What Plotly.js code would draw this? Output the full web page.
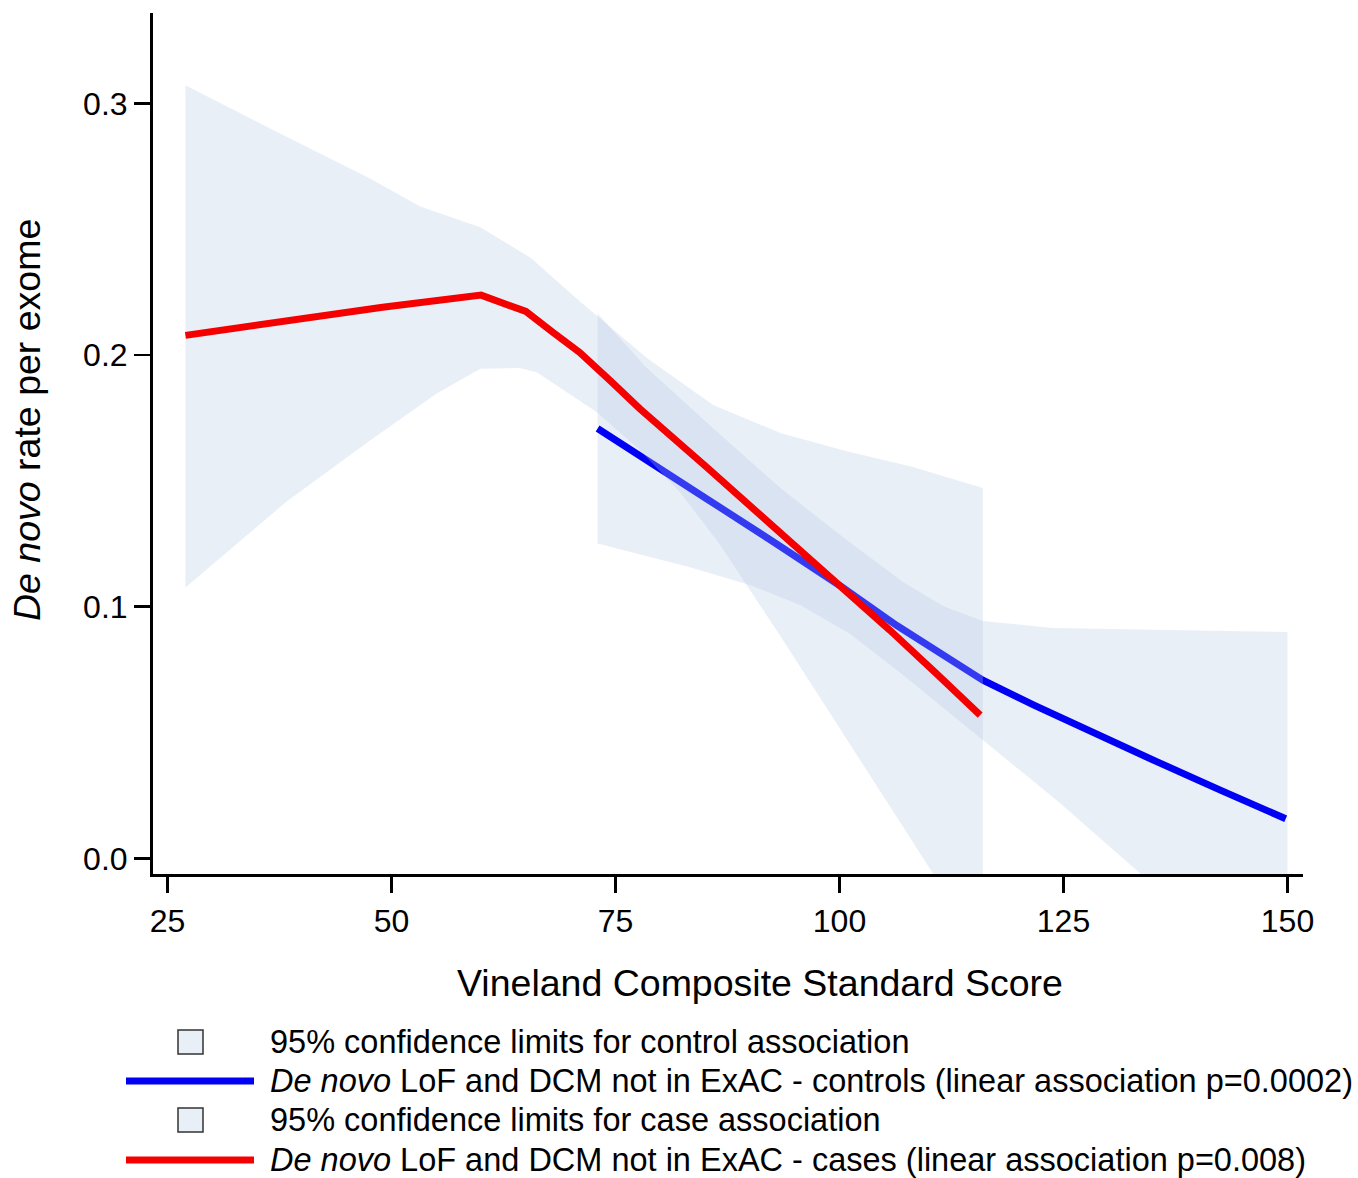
<!DOCTYPE html>
<html>
<head>
<meta charset="utf-8">
<script src="https://cdn.plot.ly/plotly-3.0.1.min.js"></script>
<style>
  html, body { margin: 0; padding: 0; background: #ffffff; }
  #chart { width: 1358px; height: 1178px; }
</style>
</head>
<body>
<div id="chart"></div>
<script>
// ---------- Data ----------
// Cases: fitted rate (red line)
const caseX = [27, 49, 60, 65, 68, 71, 74.5, 77.7, 85.2, 92.6, 100.1, 105.6, 110.7, 115.7];
const caseY = [0.2078, 0.2190, 0.2238, 0.2173, 0.2090, 0.2010, 0.1895, 0.1787, 0.1553, 0.1320, 0.1085, 0.0907, 0.0738, 0.0569];

// Controls: fitted rate (blue line)
const ctlX = [73, 77.7, 85.2, 92.6, 100.1, 106.4, 116.0, 121.7, 128.4, 135.4, 142.5, 149.8];
const ctlY = [0.1708, 0.1598, 0.1428, 0.1258, 0.1082, 0.0925, 0.0708, 0.0609, 0.0497, 0.0384, 0.0271, 0.0157];

// Cases: 95% confidence limits
const caseUpperX = [27, 36.4, 47.6, 53.2, 59.9, 65.5, 71.0, 78.5, 85.9, 93.4, 100.8, 108.2, 116.0];
const caseUpperY = [0.3072, 0.2901, 0.2701, 0.2590, 0.2508, 0.2387, 0.2214, 0.1988, 0.1801, 0.1690, 0.1618, 0.1555, 0.1471];
const caseLowerX = [27, 38.3, 47.6, 55.0, 59.9, 64.3, 66.2, 72.9, 77.7, 82.2, 86.7, 90.0, 93.4, 97.8, 103.4, 110.4, 116.0];
const caseLowerY = [0.1076, 0.1418, 0.1660, 0.1846, 0.1945, 0.1948, 0.1931, 0.1773, 0.1622, 0.1455, 0.1245, 0.1066, 0.0883, 0.0641, 0.0331, -0.0058, -0.0368];

// Controls: 95% confidence limits
const ctlUpperX = [73, 78.3, 85.9, 93.4, 100.8, 107.1, 111.6, 116.0, 123.8, 135.8, 150.0];
const ctlUpperY = [0.2165, 0.1955, 0.1709, 0.1471, 0.1265, 0.1098, 0.1002, 0.0943, 0.0915, 0.0907, 0.0899];
const ctlLowerX = [73, 83.3, 90.0, 95.6, 101.2, 107.1, 116.0, 124.6, 133.5, 150.0];
const ctlLowerY = [0.1251, 0.1157, 0.1086, 0.1007, 0.0891, 0.0728, 0.0470, 0.0220, -0.0058, -0.0603];

// Axis ticks and titles
const xTicks = [25, 50, 75, 100, 125, 150];
const yTicks = [0.0, 0.1, 0.2, 0.3];
const yTickText = ['0.0', '0.1', '0.2', '0.3'];
const xTitle = 'Vineland Composite Standard Score';
const yTitle = '<i>De novo</i> rate per exome';

// Legend labels
const legendLabels = [
  '95% confidence limits for control association',
  '<i>De novo</i> LoF and DCM not in ExAC - controls (linear association p=0.0002)',
  '95% confidence limits for case association',
  '<i>De novo</i> LoF and DCM not in ExAC - cases (linear association p=0.008)'
];

// ---------- Styling ----------
const FONT = 'Liberation Sans, Arial, Helvetica, sans-serif';
const bandFill = 'rgba(180,200,228,0.29)';
const bandSolid = 'rgb(233,239,247)';
const blue = 'rgb(0,0,245)';
const red = 'rgb(245,0,0)';
const lineW = 7;

function polygon(ux, uy, lx, ly) {
  return {
    x: ux.concat(lx.slice().reverse()),
    y: uy.concat(ly.slice().reverse())
  };
}

const ctlBand = polygon(ctlUpperX, ctlUpperY, ctlLowerX, ctlLowerY);
const caseBand = polygon(caseUpperX, caseUpperY, caseLowerX, caseLowerY);

const traces = [
  { x: ctlBand.x, y: ctlBand.y, type: 'scatter', mode: 'lines', fill: 'toself',
    fillcolor: bandFill, line: { width: 0 }, hoverinfo: 'skip', showlegend: false,
    name: '95% confidence limits for control association' },
  { x: ctlX, y: ctlY, type: 'scatter', mode: 'lines', line: { color: blue, width: lineW },
    showlegend: false, name: 'controls' },
  { x: caseBand.x, y: caseBand.y, type: 'scatter', mode: 'lines', fill: 'toself',
    fillcolor: bandFill, line: { width: 0 }, hoverinfo: 'skip', showlegend: false,
    name: '95% confidence limits for case association' },
  { x: caseX, y: caseY, type: 'scatter', mode: 'lines', line: { color: red, width: lineW },
    showlegend: false, name: 'cases' }
];

// ---------- Layout geometry (pixels) ----------
const W = 1358, H = 1178;
const mL = 153, mR = 55, mT = 13, mB = 304;
const plotW = W - mL - mR, plotH = H - mT - mB;
const px = v => (v - mL) / plotW;           // pixel x -> paper x
const py = v => (H - mB - v) / plotH;       // pixel y -> paper y

const shapes = [];
const annotations = [];

// Axis titles placed as in the reference
annotations.push({ xref: 'paper', yref: 'paper', x: px(760), y: py(983),
  xanchor: 'center', yanchor: 'middle', text: xTitle, showarrow: false,
  font: { family: FONT, size: 37.5, color: '#000' } });
annotations.push({ xref: 'paper', yref: 'paper', x: px(27), y: py(420),
  xanchor: 'center', yanchor: 'middle', text: yTitle, showarrow: false, textangle: -90,
  font: { family: FONT, size: 37.5, color: '#000' } });

// Custom legend (below plot, as in the reference)
const legRowsY = [1042, 1081, 1120, 1160];
[0, 2].forEach(i => {
  shapes.push({ type: 'rect', xref: 'paper', yref: 'paper',
    x0: px(178), x1: px(203), y0: py(legRowsY[i] - 12), y1: py(legRowsY[i] + 12),
    fillcolor: bandSolid, line: { color: '#333333', width: 1.5 } });
});
shapes.push({ type: 'line', xref: 'paper', yref: 'paper',
  x0: px(126), x1: px(254), y0: py(legRowsY[1]), y1: py(legRowsY[1]),
  line: { color: blue, width: lineW } });
shapes.push({ type: 'line', xref: 'paper', yref: 'paper',
  x0: px(126), x1: px(254), y0: py(legRowsY[3]), y1: py(legRowsY[3]),
  line: { color: red, width: lineW } });
legendLabels.forEach((t, i) => {
  annotations.push({ xref: 'paper', yref: 'paper', x: px(268), y: py(legRowsY[i]),
    xanchor: 'left', yanchor: 'middle', text: t, showarrow: false,
    font: { family: FONT, size: 32.5, color: '#000' } });
});

const layout = {
  width: W, height: H,
  margin: { l: mL, r: mR, t: mT, b: mB, pad: 0 },
  paper_bgcolor: '#ffffff', plot_bgcolor: '#ffffff',
  font: { family: FONT, color: '#000' },
  showlegend: false,
  xaxis: {
    range: [23.38, 151.73], tickvals: xTicks, ticktext: xTicks.map(String),
    ticks: 'outside', ticklen: 16, tickwidth: 2.5, tickcolor: '#000',
    showline: true, linecolor: '#000', linewidth: 3, mirror: false,
    showgrid: false, zeroline: false,
    tickfont: { family: FONT, size: 32, color: '#000' },
    ticklabelstandoff: 1
  },
  yaxis: {
    range: [-0.00624, 0.3359], tickvals: yTicks, ticktext: yTickText,
    ticks: 'outside', ticklen: 16, tickwidth: 2.5, tickcolor: '#000',
    showline: true, linecolor: '#000', linewidth: 3, mirror: false,
    showgrid: false, zeroline: false,
    tickfont: { family: FONT, size: 32, color: '#000' },
    ticklabelstandoff: 0
  },
  shapes: shapes,
  annotations: annotations
};

Plotly.newPlot('chart', traces, layout, { staticPlot: true, displayModeBar: false });
</script>
</body>
</html>
